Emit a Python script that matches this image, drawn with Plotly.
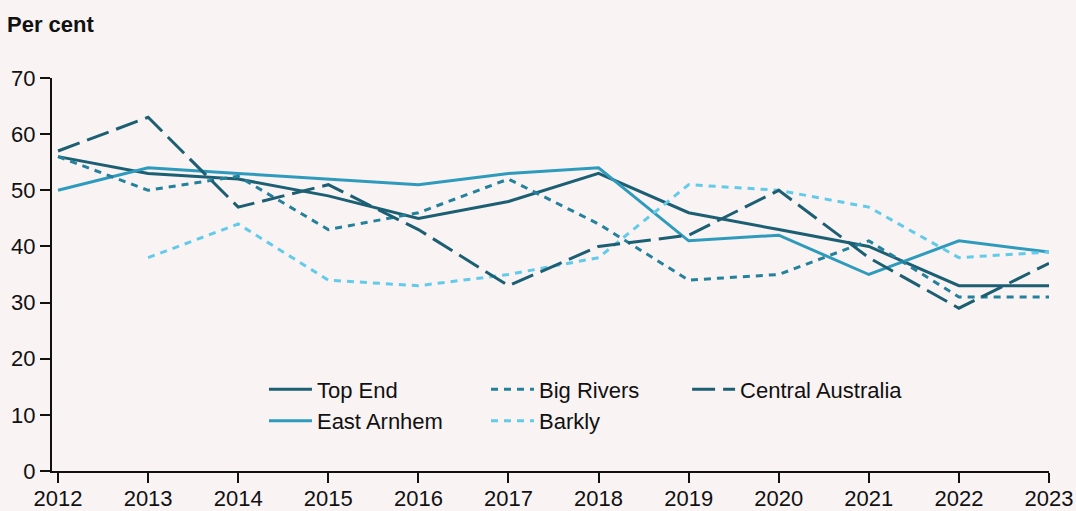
import plotly.graph_objects as go

years = list(range(2012, 2024))
top_end = [56, 53, 52, 49, 45, 48, 53, 46, 43, 40, 33, 33]
east_arnhem = [50, 54, 53, 52, 51, 53, 54, 41, 42, 35, 41, 39]
big_rivers = [56, 50, 52.5, 43, 46, 52, 44, 34, 35, 41, 31, 31]
barkly = [None, 38, 44, 34, 33, 35, 38, 51, 50, 47, 38, 39]
central_australia = [57, 63, 47, 51, 43, 33, 40, 42, 50, 38, 29, 37]
y_ticks = [0, 10, 20, 30, 40, 50, 60, 70]

BG = "#f9f3f3"
FONT = "Liberation Sans, Arial, sans-serif"
FS = 22

fig = go.Figure()
series = [
    ("Top End", top_end, "#1c5f73", "solid", "legend"),
    ("East Arnhem", east_arnhem, "#2e9bbd", "solid", "legend"),
    ("Big Rivers", big_rivers, "#23819b", "7px,6px", "legend2"),
    ("Barkly", barkly, "#62cbea", "7px,6px", "legend2"),
    ("Central Australia", central_australia, "#1c5f73", "23px,8px", "legend3"),
]
for name, vals, color, dash, lg in series:
    fig.add_trace(go.Scatter(
        x=years, y=vals, name=name, mode="lines",
        line=dict(color=color, width=3, dash=dash),
        legend=lg,
    ))

leg_common = dict(
    orientation="v", yanchor="top", xanchor="left", y=0.261,
    bgcolor="rgba(0,0,0,0)", font=dict(size=FS, color="#111", family=FONT),
    tracegroupgap=0, itemwidth=43,
)
fig.update_layout(
    width=1076, height=511,
    paper_bgcolor=BG, plot_bgcolor=BG,
    margin=dict(l=52, r=27, t=78, b=40, autoexpand=False),
    font=dict(family=FONT, size=FS, color="#111"),
    showlegend=True,
    legend=dict(x=0.2126, **leg_common),
    legend2=dict(x=0.4353, **leg_common),
    legend3=dict(x=0.637, **leg_common),
    xaxis=dict(
        range=[2011.933, 2023], tickvals=years, ticktext=[str(y) for y in years],
        showgrid=False, zeroline=False, showline=True, linecolor="#111", linewidth=2,
        ticks="outside", ticklen=10, tickwidth=2, tickcolor="#111",
        tickfont=dict(size=FS), automargin=False, ticklabelstandoff=-3,
    ),
    yaxis=dict(
        range=[0, 70], tickvals=y_ticks,
        showgrid=False, zeroline=False, showline=True, linecolor="#111", linewidth=2,
        ticks="outside", ticklen=10, tickwidth=2, tickcolor="#111",
        tickfont=dict(size=FS), automargin=False,
    ),
    annotations=[dict(
        text="<b>Per cent</b>", xref="paper", yref="paper",
        x=-52/997, y=1 + 53/393, xanchor="left", yanchor="middle",
        showarrow=False, font=dict(size=FS, color="#111", family=FONT),
        xshift=5,
    )],
)
fig.write_html("out.html", config={"displayModeBar": False},
               post_script="document.body.style.margin='0';")
